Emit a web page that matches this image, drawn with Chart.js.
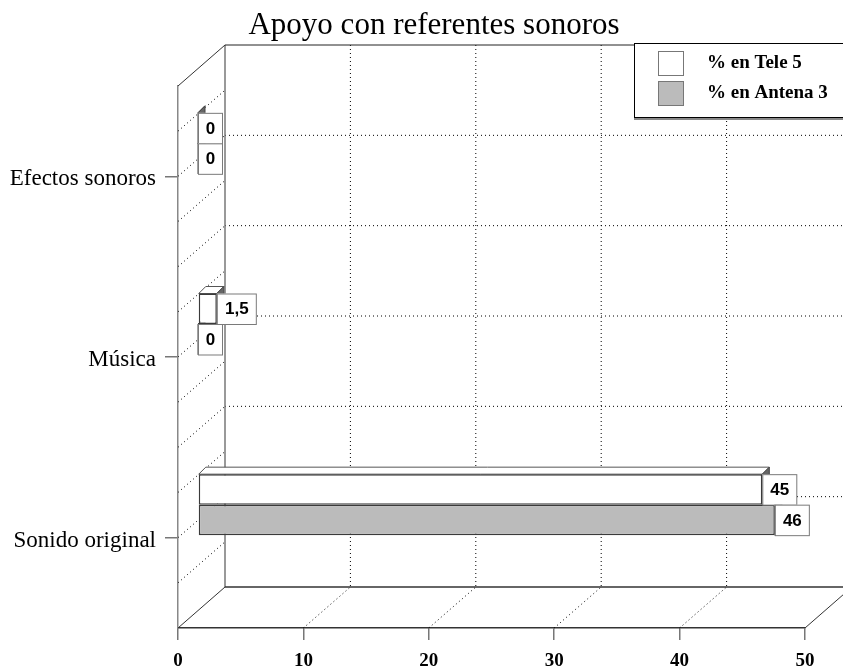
<!DOCTYPE html>
<html>
<head>
<meta charset="utf-8">
<title>Apoyo con referentes sonoros</title>
<script src="https://cdn.jsdelivr.net/npm/chart.js@4/dist/chart.umd.min.js"></script>
<style>
  html, body { margin: 0; padding: 0; background: #fff; }
  canvas { display: block; }
</style>
</head>
<body>
<canvas id="chart" width="843" height="670"></canvas>
<script>
// Categories (top to bottom) and the two series, in percent
const categories = ['Efectos sonoros', 'Música', 'Sonido original'];
const tele5 = [0, 1.5, 45];
const antena3 = [0, 0, 46];
const seriesNames = ['% en Tele 5', '% en Antena 3'];
const seriesColors = ['#ffffff', '#bbbbbb'];
const chartTitle = 'Apoyo con referentes sonoros';
const axisMin = 0, axisMax = 50, axisStep = 10;

// Perspective offsets of the pseudo-3D box
const BACK = { dx: 47, dy: -41 };    // front plane -> back wall
const BARS = { dx: 20, dy: -33 };    // front plane -> plane the bars stand in
const BAR_DEPTH = { dx: 7, dy: -7 }; // thickness of each bar

const SERIF = '"Liberation Serif", "Times New Roman", serif';

function dotted(ctx, x1, y1, x2, y2) {
  ctx.save();
  ctx.strokeStyle = '#000';
  ctx.lineWidth = 1;
  ctx.setLineDash([1, 3]);
  ctx.beginPath();
  ctx.moveTo(x1, y1);
  ctx.lineTo(x2, y2);
  ctx.stroke();
  ctx.restore();
}
function solid(ctx, x1, y1, x2, y2, color, w) {
  ctx.save();
  ctx.strokeStyle = color;
  ctx.lineWidth = w;
  ctx.beginPath();
  ctx.moveTo(x1, y1);
  ctx.lineTo(x2, y2);
  ctx.stroke();
  ctx.restore();
}
function poly(ctx, pts, fill, stroke) {
  ctx.beginPath();
  ctx.moveTo(pts[0][0], pts[0][1]);
  for (let i = 1; i < pts.length; i++) ctx.lineTo(pts[i][0], pts[i][1]);
  ctx.closePath();
  ctx.fillStyle = fill;
  ctx.fill();
  if (stroke) { ctx.strokeStyle = stroke; ctx.lineWidth = 1; ctx.stroke(); }
}

const whiteBackground = {
  id: 'whiteBackground',
  beforeDraw(chart) {
    const ctx = chart.ctx;
    ctx.save();
    ctx.fillStyle = '#fff';
    ctx.fillRect(0, 0, chart.width, chart.height);
    // heading, centred over the box
    ctx.fillStyle = '#000';
    ctx.font = '31px ' + SERIF;
    ctx.textAlign = 'center';
    ctx.textBaseline = 'middle';
    ctx.fillText(chartTitle, 434, 26);
    ctx.restore();
  }
};

const box3d = {
  id: 'box3d',
  beforeDatasetsDraw(chart) {
    const ctx = chart.ctx;
    const xs = chart.scales.x;
    const area = chart.chartArea;
    const W = chart.width;
    const left = area.left, right = area.right, top = area.top, bottom = area.bottom;
    const bl = left + BACK.dx, bt = top + BACK.dy, bb = bottom + BACK.dy;

    // back wall verticals and floor lines at the value ticks
    xs.ticks.forEach(t => {
      if (t.value === axisMin || t.value === axisMax) return;
      const x = xs.getPixelForValue(t.value);
      dotted(ctx, x + BACK.dx, bt, x + BACK.dx, bb);
      dotted(ctx, x, bottom, x + BACK.dx, bb);
    });

    // back wall: horizontal lines at category centres and borders
    const n = categories.length;
    const step = (bottom - top) / n;
    for (let k = 1; k < 2 * n; k++) {
      const y = top + k * step / 2 + BACK.dy;
      dotted(ctx, bl, y, W, y);
    }
    // left wall: diagonal lines every quarter category
    for (let k = 1; k < 4 * n; k++) {
      const y = top + k * step / 4;
      dotted(ctx, left, y, bl, y + BACK.dy);
    }

    // box edges
    solid(ctx, bl, bt, bl, bb, '#777', 1.5);        // back wall left edge
    solid(ctx, bl, bt, W, bt, '#222', 1);           // back wall top edge
    solid(ctx, left, top, bl, bt, '#333', 1);       // left wall top edge
    solid(ctx, bl, bb, W, bb, '#333', 1.5);         // floor back edge
    solid(ctx, left, bottom, bl, bb, '#333', 1);    // floor left edge
    solid(ctx, right, bottom, right + BACK.dx, bb, '#333', 1); // floor right edge

    // bars sit part-way into the box
    ctx.save();
    ctx.translate(BARS.dx, BARS.dy);

    // side and top faces, drawn first so the front faces cover them
    chart.data.datasets.forEach((ds, di) => {
      const meta = chart.getDatasetMeta(di);
      meta.data.forEach(bar => {
        const p = bar.getProps(['x', 'y', 'base', 'height'], true);
        const t = p.y - p.height / 2, b = p.y + p.height / 2;
        const d = BAR_DEPTH;
        if (di === 0) {
          poly(ctx, [[p.base, t], [p.base + d.dx, t + d.dy], [p.x + d.dx, t + d.dy], [p.x, t]], ds.backgroundColor, '#555');
        }
        poly(ctx, [[p.x, t], [p.x + d.dx, t + d.dy], [p.x + d.dx, b + d.dy], [p.x, b]], '#666', '#444');
      });
    });
  },
  afterDatasetsDraw(chart) {
    const ctx = chart.ctx;
    // value boxes at the end of each bar
    ctx.font = 'bold 17px "Liberation Sans", Arial, sans-serif';
    ctx.textAlign = 'center';
    ctx.textBaseline = 'middle';
    chart.data.datasets.forEach((ds, di) => {
      const meta = chart.getDatasetMeta(di);
      meta.data.forEach((bar, i) => {
        const p = bar.getProps(['x', 'y', 'height'], true);
        const txt = String(ds.data[i]).replace('.', ',');
        const w = Math.round(ctx.measureText(txt).width + 15);
        const t = p.y - p.height / 2;
        ctx.fillStyle = '#fff';
        ctx.fillRect(p.x, t, w, p.height);
        ctx.strokeStyle = '#7a7a7a';
        ctx.lineWidth = 1;
        ctx.strokeRect(p.x + 0.5, t + 0.5, w, p.height);
        ctx.fillStyle = '#000';
        ctx.fillText(txt, p.x + w / 2 + 0.5, p.y + 1);
      });
    });
    ctx.restore();
  }
};

const boxedLegend = {
  id: 'boxedLegend',
  afterDraw(chart) {
    const ctx = chart.ctx;
    const L = 634, T = 43, B = 117;
    ctx.save();
    ctx.fillStyle = '#fff';
    ctx.fillRect(L, T, chart.width - L + 2, B - T);
    ctx.strokeStyle = '#000';
    ctx.lineWidth = 1;
    ctx.strokeRect(L + 0.5, T + 0.5, chart.width - L + 2, B - T);
    solid(ctx, L, B + 2, chart.width, B + 2, '#888', 2);
    ctx.font = 'bold 19px ' + SERIF;
    ctx.textAlign = 'left';
    ctx.textBaseline = 'middle';
    chart.data.datasets.forEach((ds, i) => {
      const y = 51 + i * 30;
      ctx.fillStyle = ds.backgroundColor;
      ctx.fillRect(658, y, 25, 24);
      ctx.strokeStyle = '#777';
      ctx.strokeRect(658.5, y + 0.5, 25, 24);
      ctx.fillStyle = '#000';
      ctx.fillText(ds.label, 707, y + 12);
    });
    ctx.restore();
  }
};

new Chart(document.getElementById('chart'), {
  type: 'bar',
  data: {
    labels: categories,
    datasets: [
      { label: seriesNames[0], data: tele5, backgroundColor: seriesColors[0] },
      { label: seriesNames[1], data: antena3, backgroundColor: seriesColors[1] }
    ]
  },
  options: {
    indexAxis: 'y',
    responsive: false,
    animation: false,
    devicePixelRatio: 1,
    layout: { padding: { left: 0, right: 38, top: 86, bottom: 0 } },
    datasets: {
      bar: {
        borderColor: '#3a3a3a',
        borderWidth: 1.5,
        borderSkipped: false,
        categoryPercentage: 0.3376,
        barPercentage: 1,
        clip: false
      }
    },
    plugins: {
      legend: { display: false },
      tooltip: { enabled: false },
      title: { display: false }
    },
    scales: {
      x: {
        type: 'linear',
        min: axisMin,
        max: axisMax,
        afterFit(scale) { scale.height = 42; },
        ticks: {
          stepSize: axisStep,
          color: '#000',
          padding: 10,
          font: { family: SERIF, size: 19, weight: 'bold' }
        },
        grid: { drawOnChartArea: false, drawTicks: true, tickLength: 12, color: '#777', lineWidth: 1.5 },
        border: { display: true, color: '#333', width: 1.5 }
      },
      y: {
        type: 'category',
        afterFit(scale) { scale.width = 178; },
        ticks: {
          color: '#000',
          padding: 9,
          labelOffset: 3,
          font: { family: SERIF, size: 23, weight: 'normal' }
        },
        grid: { offset: false, drawOnChartArea: false, drawTicks: true, tickLength: 13, color: '#777', lineWidth: 1.5 },
        border: { display: true, color: '#888', width: 1.5 }
      }
    }
  },
  plugins: [whiteBackground, box3d, boxedLegend]
});
</script>
</body>
</html>
